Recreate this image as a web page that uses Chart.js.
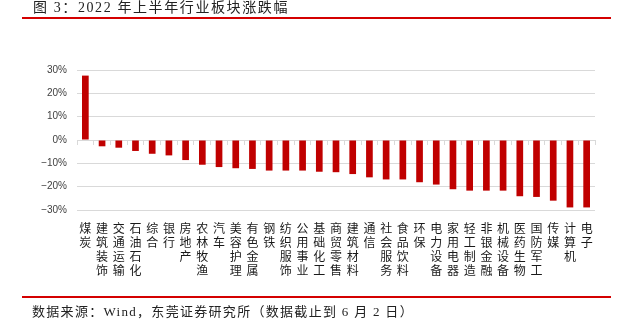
<!DOCTYPE html>
<html>
<head>
<meta charset="utf-8">
<script src="https://cdn.jsdelivr.net/npm/chart.js@4"></script>
<style>
  html, body { margin: 0; padding: 0; background: #fff; }
  #wrap { position: relative; width: 629px; height: 327px; overflow: hidden; }
  #chart { position: absolute; left: 0; top: 0; }
  .title {
    position: absolute; left: 33px; top: -4px;
    font: 14px "Liberation Serif", "Noto Sans CJK SC", serif;
    letter-spacing: 1.6px; color: #222; white-space: nowrap;
  }
  .rule { position: absolute; left: 22px; width: 589px; height: 2px; background: #d40000; }
  .source {
    position: absolute; left: 32px; top: 301px;
    font: 13px "Liberation Serif", "Noto Sans CJK SC", serif;
    letter-spacing: 1.3px; color: #222; white-space: nowrap;
  }
</style>
</head>
<body>
<div id="wrap">
  <canvas id="chart" width="629" height="327"></canvas>
  <div class="title">图 3：2022 年上半年行业板块涨跌幅</div>
  <div class="rule" style="top:17px"></div>
  <div class="rule" style="top:296px"></div>
  <div class="source">数据来源：Wind，东莞证券研究所（数据截止到 6 月 2 日）</div>
</div>
<script>
// Sector names, in order of first-half performance
const categories = [
  "煤炭", "建筑装饰", "交通运输", "石油石化", "综合", "银行", "房地产", "农林牧渔",
  "汽车", "美容护理", "有色金属", "钢铁", "纺织服饰", "公用事业", "基础化工", "商贸零售",
  "建筑材料", "通信", "社会服务", "食品饮料", "环保", "电力设备", "家用电器", "轻工制造",
  "非银金融", "机械设备", "医药生物", "国防军工", "传媒", "计算机", "电子"
];

// Price change over the half year, in percent
const changePct = [
  27.6, -2.7, -3.3, -4.7, -5.9, -6.6, -8.6, -10.6,
  -11.6, -12.1, -12.4, -13.1, -13.1, -13.1, -13.6, -13.8,
  -14.6, -16.0, -16.9, -16.9, -18.1, -19.1, -21.1, -21.7,
  -21.7, -21.7, -24.1, -24.4, -26.0, -28.9, -28.9
];

// Y axis range and tick spacing (percent)
const yTicks = { min: -30, max: 30, step: 10 };

// Names are written top to bottom, one character per line
const stackedLabels = categories.map(name => Array.from(name));

const gridGray = "#d9d9d9";

new Chart(document.getElementById("chart"), {
  type: "bar",
  data: {
    labels: stackedLabels,
    datasets: [{
      data: changePct,
      backgroundColor: "#c00000",
      borderWidth: 0,
      barPercentage: 0.4,
      categoryPercentage: 1.0
    }]
  },
  options: {
    responsive: false,
    animation: false,
    events: [],
    layout: { padding: { top: 70, right: 34, left: 0, bottom: 0 } },
    plugins: { legend: { display: false }, tooltip: { enabled: false } },
    scales: {
      x: {
        position: "bottom",
        grid: { display: false, drawTicks: false },
        border: { display: false },
        ticks: {
          autoSkip: false,
          maxRotation: 0,
          minRotation: 0,
          padding: 11,
          color: "#1a1a1a",
          font: { family: "'Noto Sans CJK SC', sans-serif", size: 12, lineHeight: 1.17 }
        },
        afterFit: scale => { scale.height = 117; }
      },
      // Zero baseline with short tick marks between the sectors
      x0: {
        type: "category",
        position: { y: 0 },
        offset: true,
        grid: {
          offset: true,
          drawOnChartArea: false,
          drawTicks: true,
          tickLength: 4,
          color: gridGray,
          lineWidth: 1
        },
        border: { display: true, color: gridGray, width: 1 },
        ticks: { display: false }
      },
      y: {
        min: yTicks.min,
        max: yTicks.max,
        ticks: {
          stepSize: yTicks.step,
          padding: 10,
          color: "#404040",
          font: { family: "'Liberation Sans', Arial, sans-serif", size: 10 },
          callback: v => (v < 0 ? "\u2212" + Math.abs(v) : v) + "%"
        },
        grid: { color: gridGray, lineWidth: 1, drawTicks: false },
        border: { display: false },
        afterFit: scale => { scale.width = 77; }
      }
    }
  }
});
</script>
</body>
</html>
